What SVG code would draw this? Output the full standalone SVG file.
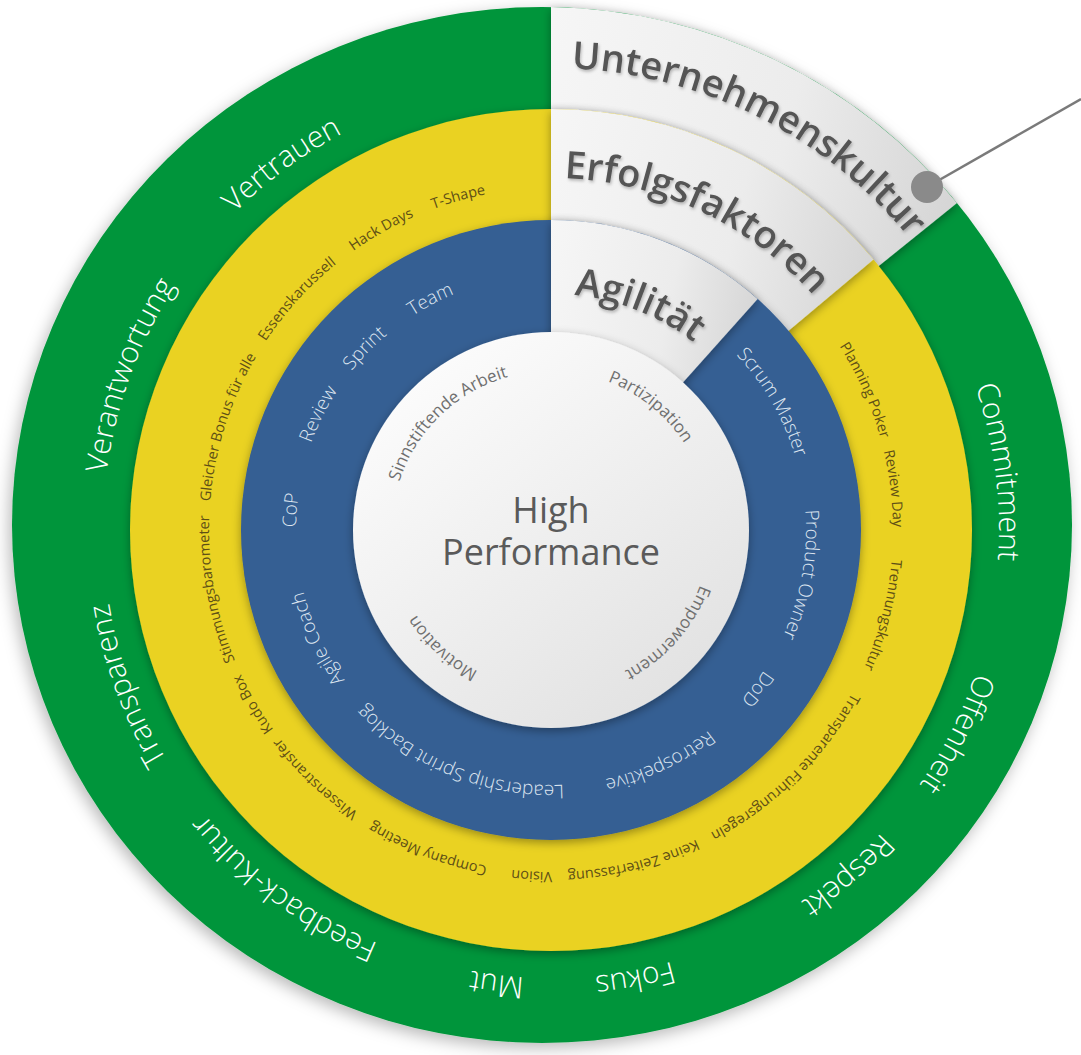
<svg xmlns="http://www.w3.org/2000/svg" xmlns:xlink="http://www.w3.org/1999/xlink" width="1081" height="1055" viewBox="0 0 1081 1055">
<style>
text{font-family:"Open Sans","Liberation Sans",sans-serif;}
.gt{font-size:30px;font-weight:300;fill:#ffffff}
.yt{font-size:14.5px;font-weight:400;fill:#5e4f16}
.bt{font-size:19px;font-weight:300;fill:#dde5f0}
.wt{font-size:17px;font-weight:400;fill:#707070}
.ht{font-size:38px;font-weight:580;fill:#555555}
.ct{font-size:36px;font-weight:400;fill:#5a5a5a}
</style>
<defs>
<filter id="shOuter" x="-10%" y="-10%" width="120%" height="120%"><feDropShadow dx="-3" dy="5" stdDeviation="8" flood-color="#000" flood-opacity="0.28"/></filter>
<filter id="sh" x="-20%" y="-20%" width="140%" height="140%"><feDropShadow dx="0" dy="3" stdDeviation="5" flood-color="#000" flood-opacity="0.35"/></filter>
<filter id="ts" x="-10%" y="-30%" width="120%" height="160%"><feDropShadow dx="1" dy="2" stdDeviation="1.5" flood-color="#000" flood-opacity="0.25"/></filter>
<linearGradient id="gDisk" x1="0.2" y1="0.1" x2="0.85" y2="0.95"><stop offset="0" stop-color="#fbfbfb"/><stop offset="1" stop-color="#e1e1e1"/></linearGradient>
<linearGradient id="gPiece" x1="0" y1="0" x2="1" y2="0.3"><stop offset="0" stop-color="#f6f6f6"/><stop offset="0.6" stop-color="#ececec"/><stop offset="1" stop-color="#d6d6d6"/></linearGradient>
<path id="pG" d="M551,82 A448,448 0 1 1 551,978 A448,448 0 1 1 551,82"/>
<path id="pY" d="M551,188 A342,342 0 1 1 551,872 A342,342 0 1 1 551,188"/>
<path id="pB" d="M551,275 A255,255 0 1 1 551,785 A255,255 0 1 1 551,275"/>
<path id="pW" d="M551,371 A159,159 0 1 1 551,689 A159,159 0 1 1 551,371"/>
<path id="pH1" d="M551,68 A462,462 0 1 1 551,992 A462,462 0 1 1 551,68"/>
<path id="pH2" d="M551,178 A352,352 0 1 1 551,882 A352,352 0 1 1 551,178"/>
<path id="pH3" d="M551,294 A236,236 0 1 1 551,766 A236,236 0 1 1 551,294"/>
</defs>

<g id="ring-green">
<ellipse cx="542" cy="525" rx="530" ry="518" fill="#00953a" filter="url(#shOuter)"/>
<text class="gt"><textPath xlink:href="#pG" href="#pG" startOffset="89.9%" text-anchor="middle">Vertrauen</textPath></text>
<text class="gt"><textPath xlink:href="#pG" href="#pG" startOffset="80.6%" text-anchor="middle">Verantwortung</textPath></text>
<text class="gt"><textPath xlink:href="#pG" href="#pG" startOffset="69.4%" text-anchor="middle">Transparenz</textPath></text>
<text class="gt"><textPath xlink:href="#pG" href="#pG" startOffset="60.2%" text-anchor="middle">Feedback-Kultur</textPath></text>
<text class="gt"><textPath xlink:href="#pG" href="#pG" startOffset="51.9%" text-anchor="middle">Mut</textPath></text>
<text class="gt"><textPath xlink:href="#pG" href="#pG" startOffset="47.05%" text-anchor="middle">Fokus</textPath></text>
<text class="gt"><textPath xlink:href="#pG" href="#pG" startOffset="38.7%" text-anchor="middle">Respekt</textPath></text>
<text class="gt"><textPath xlink:href="#pG" href="#pG" startOffset="32.4%" text-anchor="middle">Offenheit</textPath></text>
<text class="gt"><textPath xlink:href="#pG" href="#pG" startOffset="22.95%" text-anchor="middle">Commitment</textPath></text>
</g>

<g id="piece-unternehmenskultur">
<path d="M551,530 L551,7 A530,518 0 0 1 957,203 Z" fill="url(#gPiece)" filter="url(#sh)"/>
<text class="ht" filter="url(#ts)"><textPath xlink:href="#pH1" href="#pH1" startOffset="7.4%" text-anchor="middle">Unternehmenskultur</textPath></text>
</g>

<g id="ring-yellow">
<circle cx="551" cy="530" r="421" fill="#ead220" filter="url(#sh)"/>
<text class="yt"><textPath xlink:href="#pY" href="#pY" startOffset="95.67%" text-anchor="middle">T-Shape</textPath></text>
<text class="yt"><textPath xlink:href="#pY" href="#pY" startOffset="91.81%" text-anchor="middle">Hack Days</textPath></text>
<text class="yt"><textPath xlink:href="#pY" href="#pY" startOffset="86.75%" text-anchor="middle">Essenskarussell</textPath></text>
<text class="yt"><textPath xlink:href="#pY" href="#pY" startOffset="79.9%" text-anchor="middle">Gleicher Bonus für alle</textPath></text>
<text class="yt"><textPath xlink:href="#pY" href="#pY" startOffset="72.22%" text-anchor="middle">Stimmungsbarometer</textPath></text>
<text class="yt"><textPath xlink:href="#pY" href="#pY" startOffset="66.58%" text-anchor="middle">Kudo Box</textPath></text>
<text class="yt"><textPath xlink:href="#pY" href="#pY" startOffset="62.08%" text-anchor="middle">Wissenstransfer</textPath></text>
<text class="yt"><textPath xlink:href="#pY" href="#pY" startOffset="55.86%" text-anchor="middle">Company Meeting</textPath></text>
<text class="yt"><textPath xlink:href="#pY" href="#pY" startOffset="50.89%" text-anchor="middle">Vision</textPath></text>
<text class="yt"><textPath xlink:href="#pY" href="#pY" startOffset="46.11%" text-anchor="middle">Keine Zeiterfassung</textPath></text>
<text class="yt"><textPath xlink:href="#pY" href="#pY" startOffset="37.6%" text-anchor="middle">Transparente Führungsregeln</textPath></text>
<text class="yt"><textPath xlink:href="#pY" href="#pY" startOffset="29.0%" text-anchor="middle">Trennungskultur</textPath></text>
<text class="yt"><textPath xlink:href="#pY" href="#pY" startOffset="23.08%" text-anchor="middle">Review Day</textPath></text>
<text class="yt"><textPath xlink:href="#pY" href="#pY" startOffset="18.33%" text-anchor="middle">Planning Poker</textPath></text>
</g>

<g id="piece-erfolgsfaktoren">
<path d="M551,530 L551,109 A421,421 0 0 1 873.5,259.4 Z" fill="url(#gPiece)" filter="url(#sh)"/>
<text class="ht" filter="url(#ts)"><textPath xlink:href="#pH2" href="#pH2" startOffset="7.0%" text-anchor="middle">Erfolgsfaktoren</textPath></text>
</g>

<g id="ring-blue">
<circle cx="551" cy="530" r="310" fill="#355e93" filter="url(#sh)"/>
<text class="bt"><textPath xlink:href="#pB" href="#pB" startOffset="92.33%" text-anchor="middle">Team</textPath></text>
<text class="bt"><textPath xlink:href="#pB" href="#pB" startOffset="87.31%" text-anchor="middle">Sprint</textPath></text>
<text class="bt"><textPath xlink:href="#pB" href="#pB" startOffset="82.36%" text-anchor="middle">Review</textPath></text>
<text class="bt"><textPath xlink:href="#pB" href="#pB" startOffset="76.22%" text-anchor="middle">CoP</textPath></text>
<text class="bt"><textPath xlink:href="#pB" href="#pB" startOffset="68.06%" text-anchor="middle">Agile Coach</textPath></text>
<text class="bt"><textPath xlink:href="#pB" href="#pB" startOffset="56.11%" text-anchor="middle">Leadership Sprint Backlog</textPath></text>
<text class="bt"><textPath xlink:href="#pB" href="#pB" startOffset="43.0%" text-anchor="middle">Retrospektive</textPath></text>
<text class="bt"><textPath xlink:href="#pB" href="#pB" startOffset="35.45%" text-anchor="middle">DoD</textPath></text>
<text class="bt"><textPath xlink:href="#pB" href="#pB" startOffset="27.8%" text-anchor="middle">Product Owner</textPath></text>
<text class="bt"><textPath xlink:href="#pB" href="#pB" startOffset="16.67%" text-anchor="middle">Scrum Master</textPath></text>
</g>

<g id="piece-agilitaet">
<path d="M551,530 L551,220 A310,310 0 0 1 757.6,298.9 Z" fill="url(#gPiece)" filter="url(#sh)"/>
<text class="ht" filter="url(#ts)"><textPath xlink:href="#pH3" href="#pH3" startOffset="5.97%" text-anchor="middle">Agilität</textPath></text>
</g>

<g id="core">
<circle cx="551" cy="530" r="198" fill="url(#gDisk)" filter="url(#sh)"/>
<text class="wt"><textPath xlink:href="#pW" href="#pW" startOffset="87.78%" text-anchor="middle">Sinnstiftende Arbeit</textPath></text>
<text class="wt"><textPath xlink:href="#pW" href="#pW" startOffset="10.81%" text-anchor="middle">Partizipation</textPath></text>
<text class="wt"><textPath xlink:href="#pW" href="#pW" startOffset="36.5%" text-anchor="middle">Empowerment</textPath></text>
<text class="wt"><textPath xlink:href="#pW" href="#pW" startOffset="61.83%" text-anchor="middle">Motivation</textPath></text>
<text class="ct" x="551" y="523" text-anchor="middle">High</text>
<text class="ct" x="551" y="565" text-anchor="middle">Performance</text>
</g>

<g id="connectors">
<line x1="927" y1="187" x2="1081" y2="99" stroke="#7a7a7a" stroke-width="2.5"/>
<circle cx="927" cy="187" r="16" fill="#8a8a8a"/>
</g>
</svg>
